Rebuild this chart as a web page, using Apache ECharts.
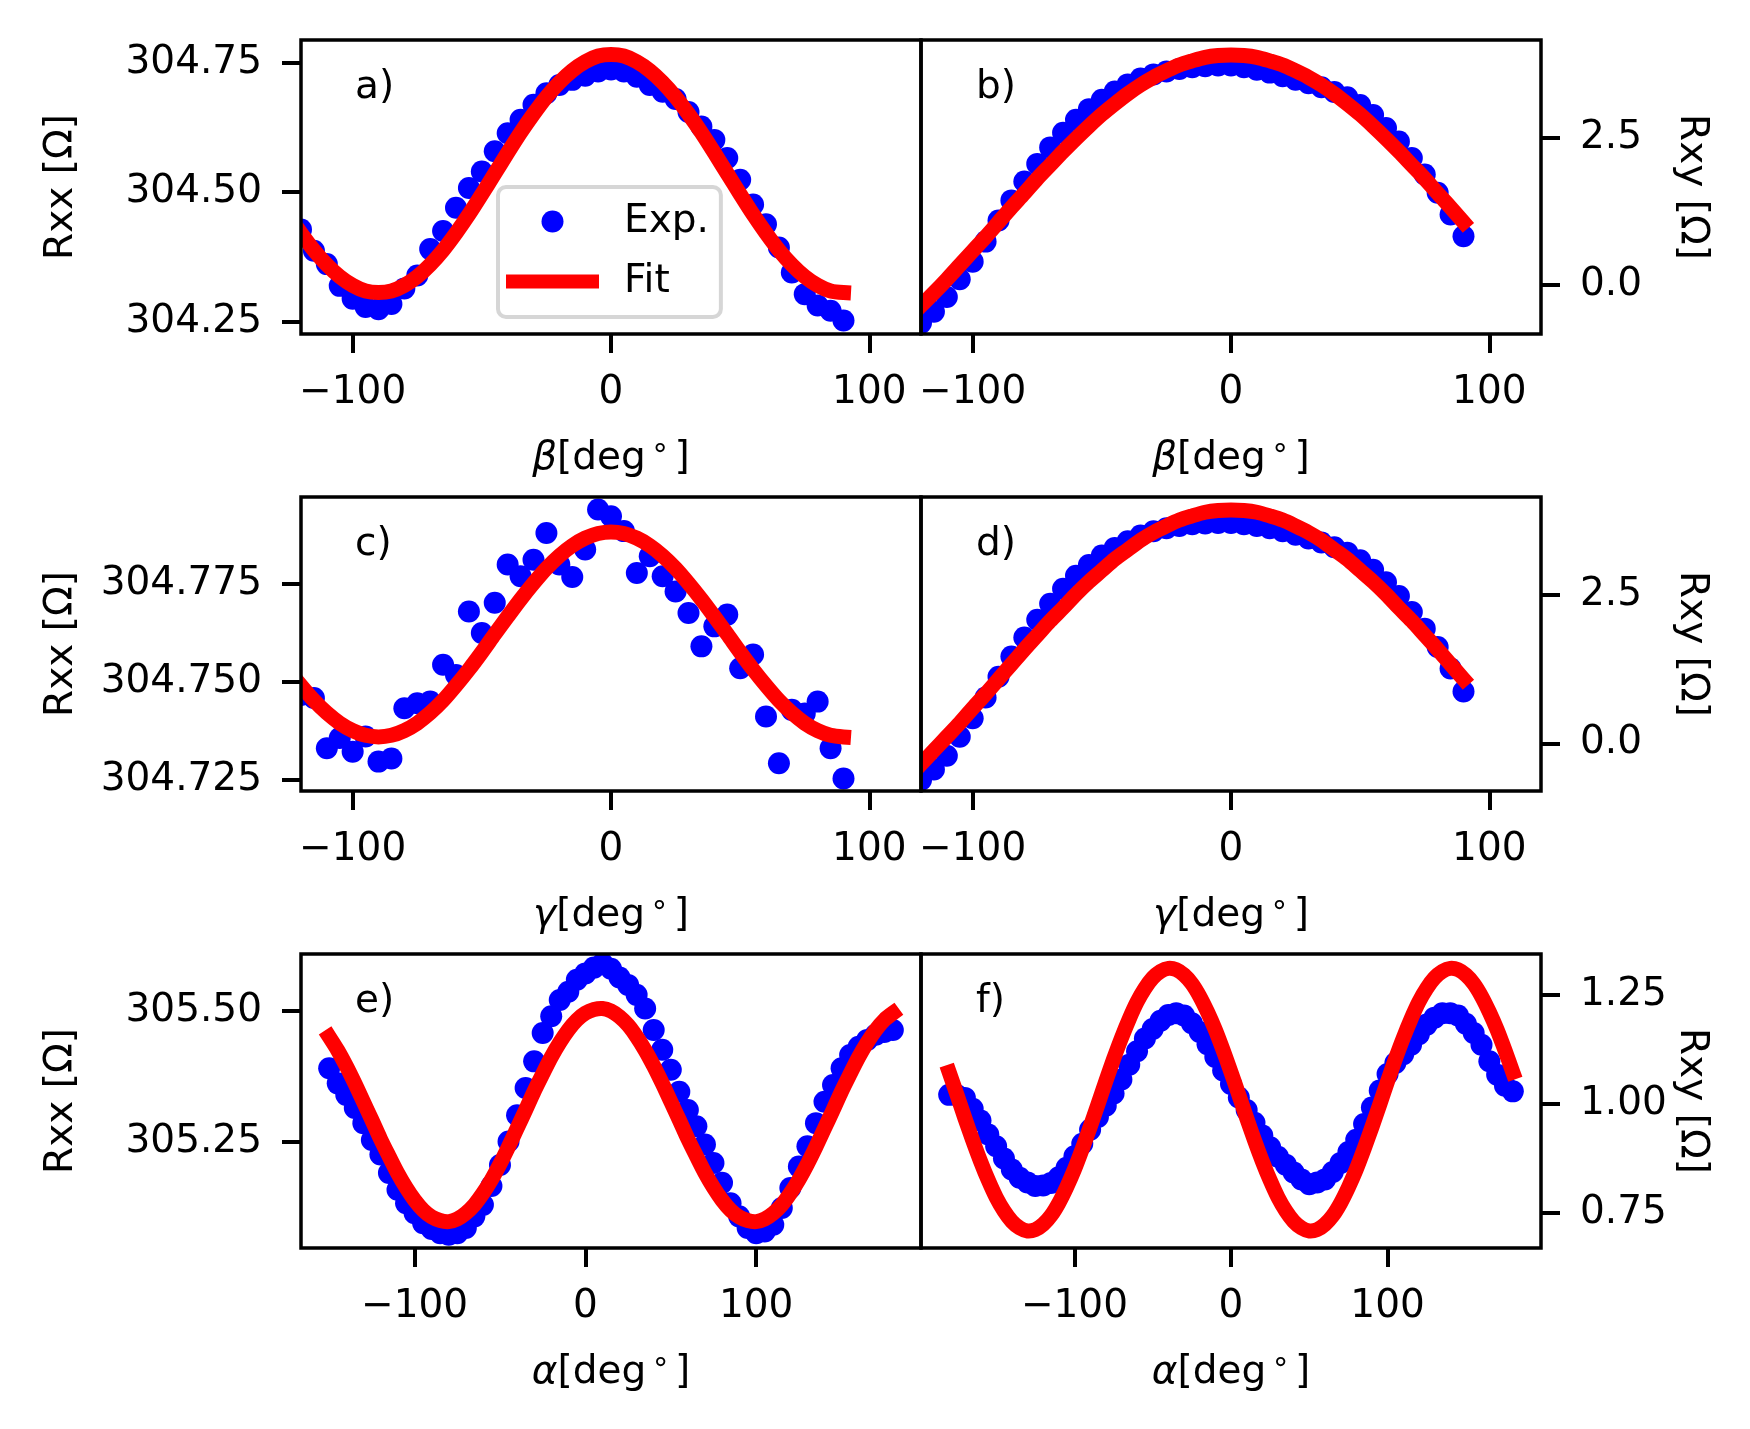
<!DOCTYPE html>
<html>
<head>
<meta charset="utf-8">
<script src="https://cdn.jsdelivr.net/npm/echarts@6/dist/echarts.min.js"></script>
<style>
  html, body { margin: 0; padding: 0; background: #fff; }
  #chart { width: 1750px; height: 1429px; }
</style>
</head>
<body>
<div id="chart"></div>
<script>
// angles in degrees
const betaAngles = [-120, -115, -110, -105, -100, -95, -90, -85, -80, -75, -70, -65, -60, -55, -50, -45, -40, -35, -30, -25, -20, -15, -10, -5, 0, 5, 10, 15, 20, 25, 30, 35, 40, 45, 50, 55, 60, 65, 70, 75, 80, 85, 90];
const gammaAngles = [-120, -115, -110, -105, -100, -95, -90, -85, -80, -75, -70, -65, -60, -55, -50, -45, -40, -35, -30, -25, -20, -15, -10, -5, 0, 5, 10, 15, 20, 25, 30, 35, 40, 45, 50, 55, 60, 65, 70, 75, 80, 85, 90];
const alphaAnglesE = [-150, -145, -140, -135, -130, -125, -120, -115, -110, -105, -100, -95, -90, -85, -80, -75, -70, -65, -60, -55, -50, -45, -40, -35, -30, -25, -20, -15, -10, -5, 0, 5, 10, 15, 20, 25, 30, 35, 40, 45, 50, 55, 60, 65, 70, 75, 80, 85, 90, 95, 100, 105, 110, 115, 120, 125, 130, 135, 140, 145, 150, 155, 160, 165, 170, 175, 180];
const alphaAnglesF = [-180, -175, -170, -165, -160, -155, -150, -145, -140, -135, -130, -125, -120, -115, -110, -105, -100, -95, -90, -85, -80, -75, -70, -65, -60, -55, -50, -45, -40, -35, -30, -25, -20, -15, -10, -5, 0, 5, 10, 15, 20, 25, 30, 35, 40, 45, 50, 55, 60, 65, 70, 75, 80, 85, 90, 95, 100, 105, 110, 115, 120, 125, 130, 135, 140, 145, 150, 155, 160, 165, 170, 175, 180];

// a) Rxx vs beta
const rxxBetaExp = [304.428, 304.387, 304.361, 304.319, 304.294, 304.278, 304.274, 304.284, 304.314, 304.339, 304.390, 304.425, 304.470, 304.508, 304.540, 304.579, 304.614, 304.640, 304.669, 304.691, 304.707, 304.717, 304.725, 304.733, 304.737, 304.733, 304.723, 304.707, 304.694, 304.680, 304.655, 304.627, 304.601, 304.566, 304.524, 304.476, 304.438, 304.393, 304.345, 304.303, 304.281, 304.271, 304.252];
const rxxBetaFit = [304.421, 304.388, 304.360, 304.337, 304.320, 304.309, 304.306, 304.309, 304.320, 304.337, 304.360, 304.388, 304.421, 304.457, 304.496, 304.536, 304.576, 304.615, 304.651, 304.684, 304.712, 304.735, 304.752, 304.763, 304.766, 304.763, 304.752, 304.735, 304.712, 304.684, 304.651, 304.615, 304.576, 304.536, 304.496, 304.457, 304.421, 304.388, 304.360, 304.337, 304.320, 304.309, 304.306];
// b) Rxy vs beta
const rxyBetaExp = [-0.64, -0.45, -0.20, 0.10, 0.40, 0.74, 1.10, 1.44, 1.76, 2.06, 2.34, 2.59, 2.81, 2.99, 3.15, 3.29, 3.41, 3.51, 3.58, 3.63, 3.67, 3.70, 3.72, 3.73, 3.73, 3.70, 3.66, 3.61, 3.55, 3.49, 3.43, 3.36, 3.28, 3.19, 3.06, 2.89, 2.67, 2.44, 2.16, 1.88, 1.57, 1.20, 0.83];
const rxyBetaFit = [-0.35, -0.13, 0.10, 0.34, 0.58, 0.82, 1.07, 1.32, 1.56, 1.81, 2.04, 2.27, 2.49, 2.70, 2.90, 3.08, 3.25, 3.40, 3.53, 3.64, 3.74, 3.81, 3.87, 3.90, 3.91, 3.90, 3.87, 3.81, 3.74, 3.64, 3.53, 3.40, 3.25, 3.08, 2.90, 2.70, 2.49, 2.27, 2.04, 1.81, 1.56, 1.32, 1.07];
// c) Rxx vs gamma
const rxxGammaExp = [304.7467, 304.7459, 304.7331, 304.7357, 304.7322, 304.7361, 304.7297, 304.7305, 304.7433, 304.7446, 304.7450, 304.7544, 304.7518, 304.7680, 304.7625, 304.7702, 304.7800, 304.7770, 304.7812, 304.7880, 304.7800, 304.7768, 304.7838, 304.7940, 304.7923, 304.7885, 304.7778, 304.7821, 304.7770, 304.7731, 304.7676, 304.7591, 304.7642, 304.7672, 304.7535, 304.7570, 304.7412, 304.7293, 304.7429, 304.7420, 304.7450, 304.7331, 304.7254];
const rxxGammaFit = [304.7491, 304.7453, 304.7421, 304.7395, 304.7376, 304.7364, 304.7360, 304.7364, 304.7376, 304.7395, 304.7421, 304.7453, 304.7491, 304.7532, 304.7576, 304.7622, 304.7667, 304.7711, 304.7752, 304.7790, 304.7822, 304.7848, 304.7867, 304.7879, 304.7883, 304.7879, 304.7867, 304.7848, 304.7822, 304.7790, 304.7752, 304.7711, 304.7667, 304.7622, 304.7576, 304.7532, 304.7491, 304.7453, 304.7421, 304.7395, 304.7376, 304.7364, 304.7360];
// d) Rxy vs gamma
const rxyGammaExp = [-0.62, -0.44, -0.21, 0.11, 0.42, 0.77, 1.12, 1.46, 1.78, 2.08, 2.35, 2.60, 2.82, 3.00, 3.16, 3.29, 3.40, 3.50, 3.57, 3.62, 3.66, 3.69, 3.70, 3.71, 3.71, 3.69, 3.66, 3.62, 3.57, 3.51, 3.45, 3.38, 3.30, 3.21, 3.08, 2.92, 2.71, 2.48, 2.21, 1.93, 1.62, 1.26, 0.87];
const rxyGammaFit = [-0.35, -0.12, 0.11, 0.34, 0.59, 0.83, 1.08, 1.33, 1.58, 1.82, 2.06, 2.28, 2.51, 2.72, 2.91, 3.10, 3.26, 3.42, 3.55, 3.66, 3.76, 3.83, 3.89, 3.92, 3.93, 3.92, 3.89, 3.83, 3.76, 3.66, 3.55, 3.42, 3.26, 3.10, 2.91, 2.72, 2.51, 2.28, 2.06, 1.82, 1.58, 1.33, 1.08];
// e) Rxx vs alpha
const rxxAlphaExp = [305.390, 305.361, 305.339, 305.314, 305.285, 305.253, 305.225, 305.190, 305.158, 305.132, 305.113, 305.094, 305.083, 305.075, 305.072, 305.075, 305.085, 305.107, 305.129, 305.165, 305.205, 305.250, 305.300, 305.352, 305.403, 305.457, 305.489, 305.520, 305.536, 305.559, 305.571, 305.582, 305.590, 305.580, 305.563, 305.549, 305.530, 305.504, 305.463, 305.425, 305.387, 305.345, 305.310, 305.279, 305.244, 305.209, 305.171, 305.132, 305.107, 305.085, 305.075, 305.078, 305.091, 305.123, 305.161, 305.202, 305.241, 305.285, 305.326, 305.358, 305.390, 305.415, 305.431, 305.444, 305.454, 305.459, 305.463];
const rxxAlphaFit = [305.450, 305.424, 305.394, 305.361, 305.326, 305.291, 305.255, 305.222, 305.190, 305.162, 305.138, 305.119, 305.106, 305.099, 305.097, 305.102, 305.113, 305.129, 305.151, 305.177, 305.207, 305.240, 305.275, 305.310, 305.346, 305.379, 305.411, 305.439, 305.463, 305.482, 305.495, 305.502, 305.504, 305.499, 305.488, 305.472, 305.450, 305.424, 305.394, 305.361, 305.326, 305.291, 305.255, 305.222, 305.190, 305.162, 305.138, 305.119, 305.106, 305.099, 305.097, 305.102, 305.113, 305.129, 305.151, 305.177, 305.207, 305.240, 305.275, 305.310, 305.346, 305.379, 305.411, 305.439, 305.463, 305.482, 305.495];
// f) Rxy vs alpha
const rxyAlphaExp = [1.021, 1.020, 1.014, 0.989, 0.962, 0.930, 0.903, 0.875, 0.850, 0.831, 0.820, 0.812, 0.813, 0.819, 0.832, 0.854, 0.880, 0.909, 0.941, 0.970, 0.996, 1.024, 1.056, 1.090, 1.121, 1.150, 1.172, 1.191, 1.204, 1.208, 1.203, 1.185, 1.165, 1.137, 1.108, 1.077, 1.046, 1.015, 0.986, 0.957, 0.928, 0.901, 0.879, 0.861, 0.843, 0.827, 0.816, 0.820, 0.827, 0.844, 0.865, 0.890, 0.918, 0.954, 0.992, 1.031, 1.069, 1.094, 1.114, 1.136, 1.160, 1.182, 1.198, 1.208, 1.208, 1.203, 1.184, 1.163, 1.136, 1.098, 1.067, 1.042, 1.029];
const rxyAlphaFit = [1.073, 1.021, 0.968, 0.917, 0.869, 0.825, 0.786, 0.755, 0.731, 0.716, 0.709, 0.712, 0.724, 0.744, 0.773, 0.809, 0.850, 0.897, 0.947, 0.999, 1.052, 1.103, 1.151, 1.195, 1.234, 1.265, 1.289, 1.304, 1.311, 1.308, 1.296, 1.276, 1.247, 1.211, 1.170, 1.123, 1.073, 1.021, 0.968, 0.917, 0.869, 0.825, 0.786, 0.755, 0.731, 0.716, 0.709, 0.712, 0.724, 0.744, 0.773, 0.809, 0.850, 0.897, 0.947, 0.999, 1.052, 1.103, 1.151, 1.195, 1.234, 1.265, 1.289, 1.304, 1.311, 1.308, 1.296, 1.276, 1.247, 1.211, 1.170, 1.123, 1.073];

// tick labels
const angleTicks = [-100, 0, 100];
const rxxBetaTicks = [304.25, 304.50, 304.75];
const rxxGammaTicks = [304.725, 304.750, 304.775];
const rxyTicks = [0.0, 2.5];
const rxxAlphaTicks = [305.25, 305.50];
const rxyAlphaTicks = [0.75, 1.00, 1.25];

const panelLabels = ['a)', 'b)', 'c)', 'd)', 'e)', 'f)'];

const FONT = 'DejaVu Sans';
const FS = 39;
const colLeft = [301, 921];
const rowTop = [40, 497, 954];
const GW = 620, GH = 294;
const MARKER_R = 11;

const panels = [
  { x: betaAngles, exp: rxxBetaExp, fit: rxxBetaFit, xr: [-120, 120], yr: [304.226, 304.794], yt: rxxBetaTicks, dec: 2, g: 'β' },
  { x: betaAngles, exp: rxyBetaExp, fit: rxyBetaFit, xr: [-120, 120], yr: [-0.829, 4.164], yt: rxyTicks, dec: 1, g: 'β' },
  { x: gammaAngles, exp: rxxGammaExp, fit: rxxGammaFit, xr: [-120, 120], yr: [304.7222, 304.7972], yt: rxxGammaTicks, dec: 3, g: 'γ' },
  { x: gammaAngles, exp: rxyGammaExp, fit: rxyGammaFit, xr: [-120, 120], yr: [-0.804, 4.147], yt: rxyTicks, dec: 1, g: 'γ' },
  { x: alphaAnglesE, exp: rxxAlphaExp, fit: rxxAlphaFit, xr: [-166.5, 196.5], yr: [305.0466, 305.608], yt: rxxAlphaTicks, dec: 2, g: 'α' },
  { x: alphaAnglesF, exp: rxyAlphaExp, fit: rxyAlphaFit, xr: [-198, 198], yr: [0.6699, 1.3439], yt: rxyAlphaTicks, dec: 2, g: 'α' }
];

function fmt(dec) {
  return function (v) {
    return (v < 0 ? '\u2212' : '') + Math.abs(v).toFixed(dec);
  };
}

// blue dots, drawn as circles so that the ones on the frame get cut like in matplotlib
function renderDot(params, api) {
  const pt = api.coord([api.value(0), api.value(1)]);
  return {
    type: 'circle',
    shape: { cx: pt[0], cy: pt[1], r: MARKER_R },
    style: { fill: '#0000ff' }
  };
}

// red fit curve as one polyline, cut exactly at the frame
function fitRenderer(xs, ys) {
  return function (params, api) {
    if (params.dataIndex !== 0) return null;
    const pts = xs.map(function (v, k) { return api.coord([v, ys[k]]); });
    return {
      type: 'polyline',
      shape: { points: pts, smooth: 0.3 },
      style: { stroke: '#ff0000', fill: null, lineWidth: 15, lineCap: 'square', lineJoin: 'round' }
    };
  };
}

const grids = [], xAxes = [], yAxes = [], series = [], titles = [];

panels.forEach(function (p, i) {
  const col = i % 2, row = Math.floor(i / 2);
  grids.push({
    left: colLeft[col], top: rowTop[row], width: GW, height: GH,
    show: true, borderColor: '#000', borderWidth: 3.5, backgroundColor: 'transparent', z: 10
  });
  xAxes.push({
    type: 'value', gridIndex: i, min: p.xr[0], max: p.xr[1],
    axisLine: { show: false, onZero: false }, splitLine: { show: false },
    axisTick: { show: true, inside: false, length: 19, customValues: angleTicks, lineStyle: { color: '#000', width: 4 } },
    axisLabel: { customValues: angleTicks, formatter: fmt(0), margin: 39, fontSize: FS, color: '#000', fontFamily: FONT },
    name: '{g|' + p.g + '}[deg{s|\u2218}]',
    nameLocation: 'middle', nameGap: 100,
    nameTextStyle: {
      fontSize: FS, color: '#000', fontFamily: FONT,
      rich: {
        g: { fontSize: FS, fontStyle: 'italic', fontFamily: FONT, color: '#000' },
        s: { fontSize: 30, fontFamily: FONT, color: '#000', padding: [0, 5, 20, 5] }
      }
    }
  });
  yAxes.push({
    type: 'value', gridIndex: i, min: p.yr[0], max: p.yr[1],
    position: col === 0 ? 'left' : 'right',
    axisLine: { show: false, onZero: false }, splitLine: { show: false },
    axisTick: { show: true, inside: false, length: 19, customValues: p.yt, lineStyle: { color: '#000', width: 4 } },
    axisLabel: { customValues: p.yt, formatter: fmt(p.dec), margin: 39, padding: [10, 0, 0, 0], fontSize: FS, color: '#000', fontFamily: FONT },
    name: col === 0 ? 'Rxx [Ω]' : 'Rxy [Ω]',
    nameLocation: 'middle',
    nameGap: col === 0 ? 220 : 131,
    nameRotate: col === 0 ? 90 : -90,
    nameTextStyle: { fontSize: FS, color: '#000', fontFamily: FONT }
  });
  series.push({
    type: 'custom', name: 'Exp.', xAxisIndex: i, yAxisIndex: i,
    data: p.x.map(function (v, k) { return [v, p.exp[k]]; }),
    renderItem: renderDot,
    encode: { x: 0, y: 1 },
    itemStyle: { color: '#0000ff' },
    clip: true, z: 2
  });
  series.push({
    type: 'custom', name: 'Fit', xAxisIndex: i, yAxisIndex: i,
    data: p.x.map(function (v, k) { return [v, p.fit[k]]; }),
    renderItem: fitRenderer(p.x, p.fit),
    encode: { x: 0, y: 1 },
    itemStyle: { color: '#ff0000' },
    clip: true, z: 3
  });
  titles.push({
    text: panelLabels[i],
    left: col === 0 ? 355 : 976,
    top: rowTop[row] + 28,
    padding: 0,
    textStyle: { fontSize: FS, fontWeight: 'normal', fontFamily: FONT, color: '#000' }
  });
});

const chart = echarts.init(document.getElementById('chart'), null, { renderer: 'canvas' });
chart.setOption({
  animation: false,
  backgroundColor: '#fff',
  textStyle: { fontFamily: FONT },
  title: titles,
  grid: grids,
  xAxis: xAxes,
  yAxis: yAxes,
  legend: {
    orient: 'vertical', left: 498, top: 187,
    padding: [15, 12, 16, 8], itemGap: 21,
    itemWidth: 93, itemHeight: 22, symbolKeepAspect: true,
    backgroundColor: 'rgba(255,255,255,0.8)',
    borderColor: '#d6d6d6', borderWidth: 4, borderRadius: 8,
    selectedMode: false,
    data: [
      { name: 'Exp.', icon: 'circle', itemStyle: { color: '#0000ff' } },
      { name: 'Fit', icon: 'path://M0 0H93V14H0Z', itemStyle: { color: '#ff0000' } }
    ],
    textStyle: { fontSize: FS, color: '#000', fontFamily: FONT, padding: [0, 0, 0, 20], lineHeight: 22 }
  },
  series: series
});
</script>
</body>
</html>
